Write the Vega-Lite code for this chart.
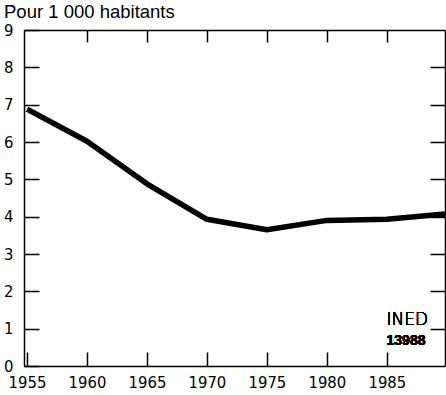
{
  "$schema": "https://vega.github.io/schema/vega-lite/v6.json",
  "width": 421,
  "height": 336,
  "autosize": {"type": "none"},
  "padding": {"left": 24, "top": 30, "right": 1, "bottom": 29},
  "background": "white",
  "config": {
    "view": {"stroke": null},
    "axis": {
      "domainColor": "black",
      "domainWidth": 1.5,
      "tickColor": "black",
      "tickWidth": 1.5,
      "grid": false,
      "labelFont": "DejaVu Sans Condensed",
      "labelFontSize": 16.5,
      "labelColor": "black",
      "title": null
    }
  },
  "title": {
    "text": "Pour 1 000 habitants",
    "anchor": "start",
    "frame": "group",
    "font": "Liberation Sans",
    "fontSize": 18.5,
    "fontWeight": "normal",
    "color": "black",
    "dx": -20,
    "offset": -14,
    "baseline": "alphabetic"
  },
  "data": {
    "values": [
      {"year": 1955, "rate": 6.88},
      {"year": 1960, "rate": 6.02},
      {"year": 1965, "rate": 4.88},
      {"year": 1970, "rate": 3.93},
      {"year": 1975, "rate": 3.65},
      {"year": 1980, "rate": 3.9},
      {"year": 1985, "rate": 3.93},
      {"year": 1989.85, "rate": 4.07}
    ]
  },
  "layer": [
    {
      "mark": {"type": "line", "color": "black", "strokeWidth": 5.5, "strokeJoin": "round"},
      "encoding": {
        "x": {
          "field": "year",
          "type": "quantitative",
          "scale": {"domain": [1954.75, 1989.85], "nice": false, "zero": false},
          "axis": {"orient": "bottom", "values": [1955, 1960, 1965, 1970, 1975, 1980, 1985], "tickSize": -14, "labelPadding": 22, "format": "d", "labelFlush": false}
        },
        "y": {
          "field": "rate",
          "type": "quantitative",
          "scale": {"domain": [0, 9], "nice": false},
          "axis": {"orient": "left", "values": [0, 1, 2, 3, 4, 5, 6, 7, 8, 9], "tickSize": -15, "labelPadding": 26, "labelFlush": false}
        }
      }
    },
    {
      "mark": {"type": "text", "text": "INED", "font": "DejaVu Sans", "fontSize": 17, "fontWeight": 200, "color": "black", "baseline": "middle", "align": "center"},
      "encoding": {
        "x": {"datum": 1986.7, "type": "quantitative", "axis": {"orient": "top", "values": [1960, 1965, 1970, 1975, 1980, 1985], "tickSize": -12, "labels": false}},
        "y": {"datum": 1.23, "type": "quantitative", "axis": {"orient": "right", "values": [1, 2, 3, 4, 5, 6, 7, 8], "tickSize": -15, "labels": false}}
      }
    },
    {
      "mark": {"type": "text", "text": "13988", "font": "Liberation Sans", "fontSize": 14, "fontWeight": "bold", "color": "black", "baseline": "middle", "align": "center"},
      "encoding": {
        "x": {"datum": 1986.6, "type": "quantitative", "axis": null},
        "y": {"datum": 0.68, "type": "quantitative", "axis": null}
      }
    }
  ],
  "resolve": {"axis": {"x": "independent", "y": "independent"}}
}
